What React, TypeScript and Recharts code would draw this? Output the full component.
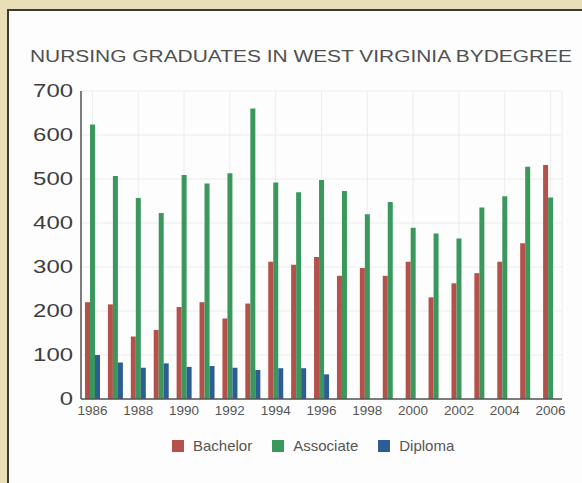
import React from 'react';
import { BarChart, Bar, XAxis, YAxis, CartesianGrid } from 'recharts';

const years = ['1986','1987','1988','1989','1990','1991','1992','1993','1994','1995','1996','1997','1998','1999','2000','2001','2002','2003','2004','2005','2006'];
const bachelor = [220,215,142,157,209,220,183,217,312,305,323,280,298,280,312,231,263,286,312,354,532];
const associate = [624,507,457,423,509,490,513,660,492,470,498,473,420,448,389,376,365,435,461,528,458];
const diploma = [100,83,71,81,73,75,71,66,70,70,56,0,0,0,0,0,0,0,0,0,0];
const yTicks = [0,100,200,300,400,500,600,700];
const title = 'NURSING GRADUATES IN WEST VIRGINIA BYDEGREE';
const seriesNames = ['Bachelor','Associate','Diploma'];
const colors = ['#b3514a','#3a985d','#2c5e94'];

const data = years.map((y, i) => ({ year: y, Bachelor: bachelor[i], Associate: associate[i], Diploma: diploma[i] }));

const FONT = '"Liberation Sans", Arial, sans-serif';

const YTick = (props: any) => {
  const { x, y, payload } = props;
  const s = String(payload.value);
  return (
    <text x={x} y={y} dy="0.36em" textAnchor="end" fontFamily={FONT} fontSize={17.5} fill="#3d3d3d"
      textLength={s.length * 13.3} lengthAdjust="spacingAndGlyphs">{s}</text>
  );
};

const XTick = (props: any) => {
  const { x, y, payload } = props;
  return (
    <text x={x} y={y} dy="0.71em" textAnchor="middle" fontFamily={FONT} fontSize={12} fill="#555"
      textLength={30} lengthAdjust="spacingAndGlyphs">{payload.value}</text>
  );
};

export default function App() {
  return (
    <div style={{ position: 'absolute', left: 0, top: 0, width: 582, height: 483, background: '#e9dfb6', overflow: 'hidden' }}>
      <div style={{ position: 'absolute', left: 7, top: 9, width: 580, height: 480, background: '#fdfdfd', borderLeft: '2px solid #3a3a3a', borderTop: '2px solid #3a3a3a' }} />
      <div style={{ position: 'absolute', left: 0, top: 0 }}>
        <BarChart width={582} height={483} data={data} margin={{ top: 91, right: 20, bottom: 54, left: 0 }} barGap={0} barSize={5}>
          <CartesianGrid stroke="#ececec" strokeWidth={1} />
          <XAxis dataKey="year" interval={1} tickLine={false} tickSize={0} tickMargin={7} height={30}
            axisLine={{ stroke: '#555', strokeWidth: 1.5 }} tick={<XTick />} />
          <YAxis domain={[0, 700]} ticks={yTicks} width={81} tickLine={false} tickSize={0} tickMargin={8}
            axisLine={{ stroke: '#555', strokeWidth: 1.5 }} tick={<YTick />} />
          {seriesNames.map((n, i) => (
            <Bar key={n} dataKey={n} fill={colors[i]} isAnimationActive={false} />
          ))}
        </BarChart>
      </div>
      <svg style={{ position: 'absolute', left: 0, top: 0 }} width={582} height={483}>
        <text x={30} y={62} fontFamily={FONT} fontSize={16} fill="#505050" textLength={542} lengthAdjust="spacingAndGlyphs">{title}</text>
      </svg>
      <div style={{ position: 'absolute', left: 172, top: 437, display: 'flex', alignItems: 'center', fontFamily: FONT, fontSize: 15, color: '#555' }}>
        {seriesNames.map((n, i) => (
          <div key={n} style={{ display: 'flex', alignItems: 'center', marginRight: 20 }}>
            <div style={{ width: 12, height: 12, background: colors[i], marginRight: 9 }} />
            <span>{n}</span>
          </div>
        ))}
      </div>
    </div>
  );
}
